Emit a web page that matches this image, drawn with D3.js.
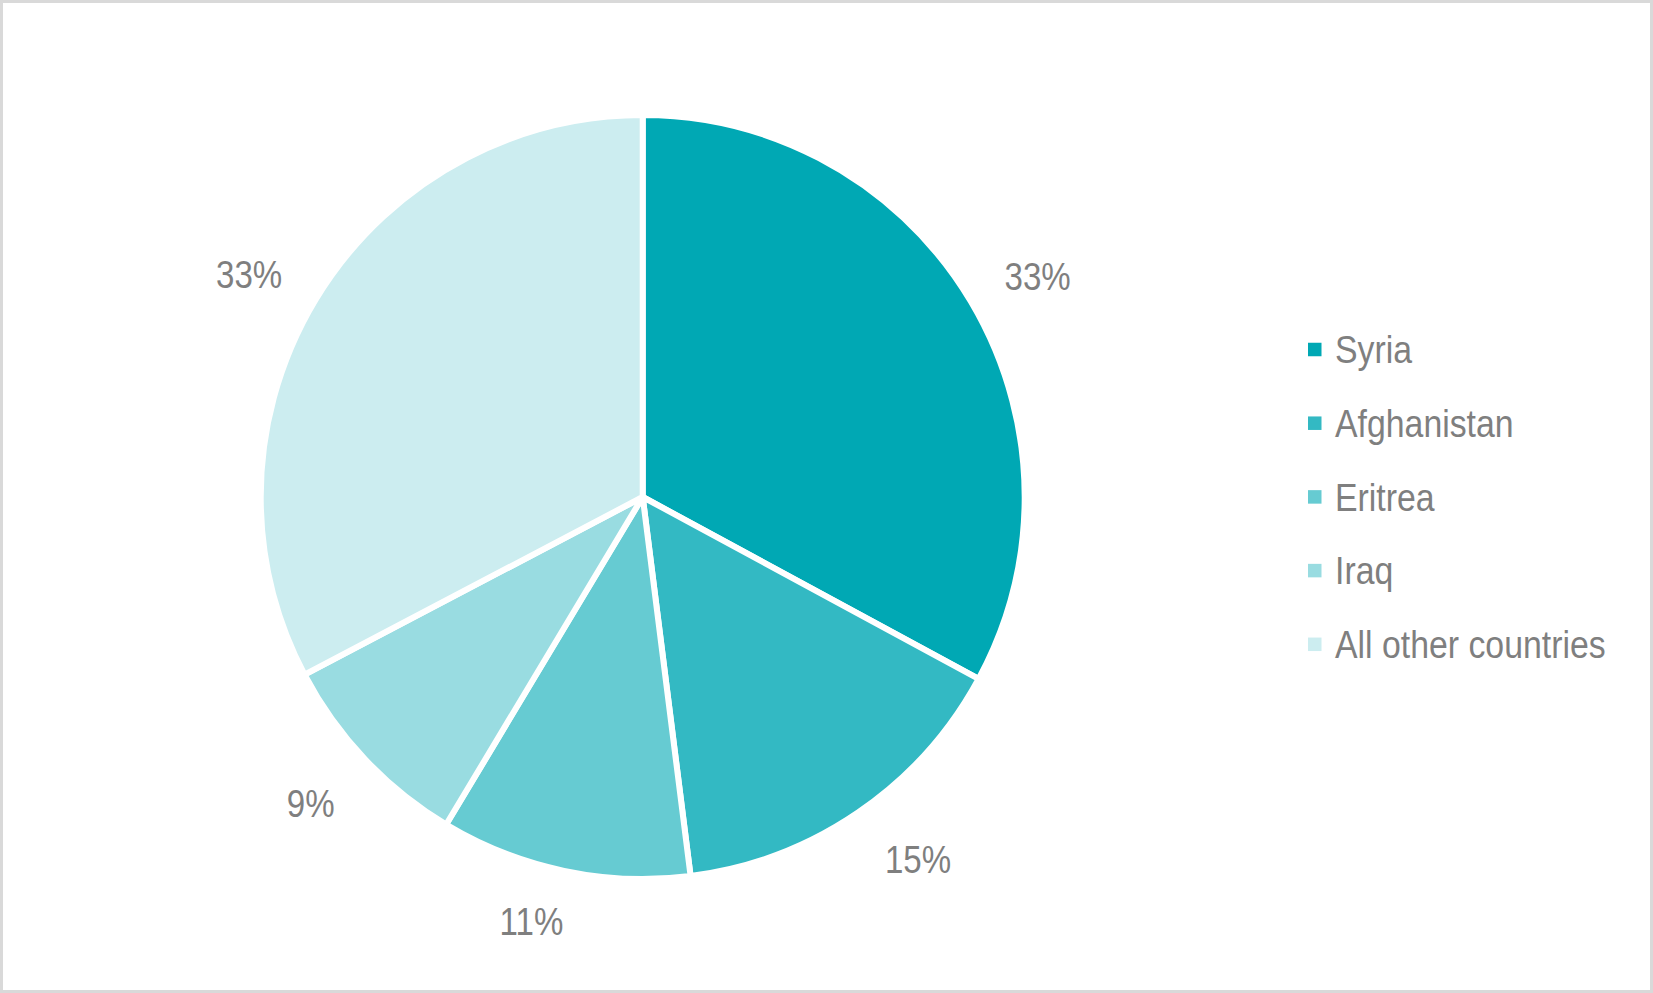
<!DOCTYPE html>
<html>
<head>
<meta charset="utf-8">
<script src="https://cdn.jsdelivr.net/npm/d3@7"></script>
<style>
  html, body { margin: 0; padding: 0; background: #fff; }
  svg { display: block; }
  text { font-family: "Liberation Sans", Arial, sans-serif; fill: #7f7f7f; }
</style>
</head>
<body>
<svg id="chart" width="1653" height="993"></svg>
<script>
const categories = ["Syria", "Afghanistan", "Eritrea", "Iraq", "All other countries"];
const shares = [32.9, 15.1, 10.6, 8.7, 32.7];
const colors = ["#00A8B4", "#33B9C3", "#66CBD2", "#99DCE1", "#CCEDF0"];

const W = 1653, H = 993;
const cx = 642.7, cy = 497, R = 379;
const fontSize = 38, sx = 0.87, sxLeg = 0.89, capHalf = 13.8;

const svg = d3.select("#chart");
svg.append("rect").attr("x", 1.5).attr("y", 1.5).attr("width", W - 3).attr("height", H - 3)
  .attr("fill", "#fff").attr("stroke", "#d9d9d9").attr("stroke-width", 3);

const data = categories.map((c, i) => ({ name: c, value: shares[i], color: colors[i] }));
const pie = d3.pie().value(d => d.value).sort(null);
const arcs = pie(data);
const arc = d3.arc().innerRadius(0).outerRadius(R + 3);

const g = svg.append("g").attr("transform", `translate(${cx},${cy})`);
g.selectAll("path").data(arcs).join("path")
  .attr("d", arc)
  .attr("fill", d => d.data.color)
  .attr("stroke", "#fff")
  .attr("stroke-width", 6)
  .attr("stroke-linejoin", "round");

// data labels placed outside end (box offset from anchor point)
const Q = 406, pad = 13, hh = 20, dy = 7;
const f = t => Math.max(-1, Math.min(1, 3 * t));
const labels = g.selectAll("text.lbl").data(arcs).join("text")
  .attr("class", "lbl")
  .attr("text-anchor", "middle")
  .attr("font-size", fontSize)
  .text(d => Math.round(d.data.value) + "%");
labels.attr("transform", function(d) {
  const a = (d.startAngle + d.endAngle) / 2;
  const s = Math.sin(a), c = Math.cos(a);
  const hw = this.getComputedTextLength() * sx / 2 + pad;
  const x = s * Q + hw * f(s);
  const y = -c * Q - hh * f(c) + dy;
  return `translate(${x},${y + capHalf}) scale(${sx},1)`;
});

// legend
const legY0 = 349.5, legStep = 73.7, legX = 1308, sq = 13.5, txtX = 1335;
const leg = svg.append("g");
const rows = leg.selectAll("g").data(data).join("g")
  .attr("transform", (d, i) => `translate(0,${legY0 + i * legStep})`);
rows.append("rect")
  .attr("x", legX).attr("y", -sq / 2).attr("width", sq).attr("height", sq)
  .attr("fill", d => d.color);
rows.append("text")
  .attr("font-size", fontSize)
  .attr("transform", `translate(${txtX},${capHalf}) scale(${sxLeg},1)`)
  .text(d => d.name);
</script>
</body>
</html>
